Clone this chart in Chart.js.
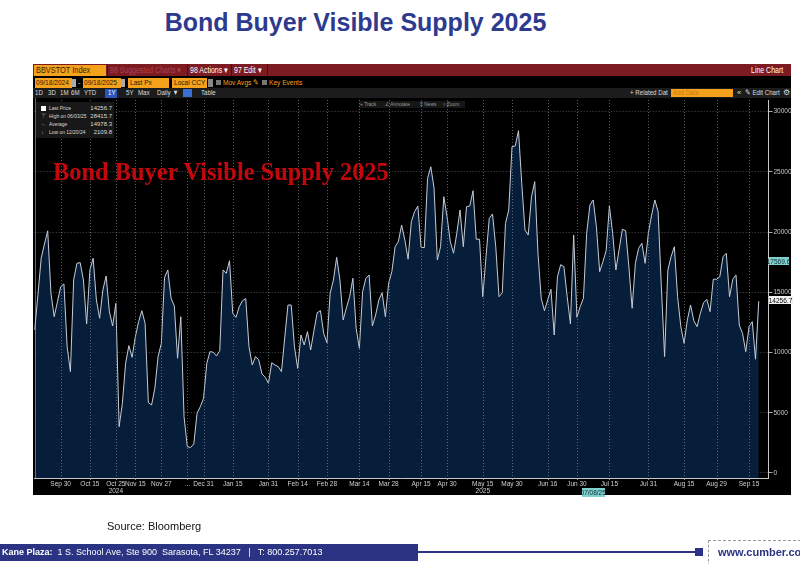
<!DOCTYPE html>
<html><head><meta charset="utf-8">
<script src="https://cdn.jsdelivr.net/npm/chart.js@4.4.1/dist/chart.umd.min.js"></script>
<style>
html,body{margin:0;padding:0;background:#fff;width:800px;height:564px;overflow:hidden;position:relative;font-family:"Liberation Sans",Arial,sans-serif}
.a{position:absolute;white-space:nowrap}
.s{font-size:7.5px;line-height:10px}
.cn{transform:scaleX(0.82);transform-origin:0 0}
.ob{background:#f4a11c;color:#2a1a00;height:10px;top:78px;box-sizing:border-box}
.lg{font-size:6px;color:#dcdcdc;line-height:7px}
</style></head><body>
<!-- page title -->
<div class="a" style="left:0;top:10px;width:711px;text-align:center;font:bold 25px/25px 'Liberation Sans',Arial,sans-serif;color:#2e3a8e">Bond Buyer Visible Supply 2025</div>

<!-- Bloomberg panel -->
<div class="a" style="left:33px;top:64px;width:758px;height:431px;background:#000"></div>
<div class="a" style="left:33px;top:64px;width:758px;height:12px;background:#7c1b22"></div>
<div class="a" style="left:34px;top:65px;width:72px;height:11px;background:#f4a11c"></div>
<div class="a cn" style="left:36px;top:65px;color:#3a2400;line-height:11px;font-size:9px">BBVSTOT Index</div>
<div class="a" style="left:107px;top:64px;width:1px;height:12px;background:#4a0d12"></div>
<div class="a cn" style="left:110px;top:65px;color:#b0414b;line-height:11px;font-size:8.5px">98 Suggested Charts ▾</div>
<div class="a" style="left:187px;top:64px;width:1px;height:12px;background:#4a0d12"></div>
<div class="a cn" style="left:190px;top:65px;color:#fff;line-height:11px;font-size:8.5px">98 Actions ▾</div>
<div class="a" style="left:231px;top:64px;width:1px;height:12px;background:#4a0d12"></div>
<div class="a cn" style="left:234px;top:65px;color:#fff;line-height:11px;font-size:8.5px">97 Edit ▾</div>
<div class="a" style="left:267px;top:64px;width:1px;height:12px;background:#4a0d12"></div>
<div class="a cn" style="left:751px;top:65px;color:#fff;line-height:11px;font-size:8.5px">Line Chart</div>

<!-- row 2 -->
<div class="a ob" style="left:35px;width:37px"></div><div class="a s cn" style="left:36px;top:78px;color:#2a1a00;font-size:8px">09/18/2024</div>
<div class="a" style="left:72px;top:79px;width:4px;height:8px;background:#aaa"></div>
<div class="a s" style="left:78px;top:78px;color:#ddd">-</div>
<div class="a ob" style="left:83px;width:38px"></div><div class="a s cn" style="left:84px;top:78px;color:#2a1a00;font-size:8px">09/18/2025</div>
<div class="a" style="left:121px;top:79px;width:4px;height:8px;background:#aaa"></div>
<div class="a ob" style="left:128px;width:41px"></div><div class="a s cn" style="left:130px;top:78px;color:#2a1a00;font-size:8px">Last Px</div>
<div class="a ob" style="left:172px;width:35px"></div><div class="a s cn" style="left:174px;top:78px;color:#2a1a00;font-size:8px">Local CCY</div>
<div class="a" style="left:208px;top:79px;width:5px;height:8px;background:#888"></div>
<div class="a" style="left:216px;top:80px;width:5px;height:5px;background:#777"></div>
<div class="a s cn" style="left:223px;top:78px;color:#f4a11c;font-size:8px">Mov Avgs ✎</div>
<div class="a" style="left:262px;top:80px;width:5px;height:5px;background:#777"></div>
<div class="a s cn" style="left:269px;top:78px;color:#f4a11c;font-size:8px">Key Events</div>

<!-- row 3 -->
<div class="a" style="left:33px;top:88px;width:758px;height:10px;background:#1c1c1c"></div>
<div class="a s cn" style="left:35px;top:88px;color:#ddd">1D</div>
<div class="a s cn" style="left:48px;top:88px;color:#ddd">3D</div>
<div class="a s cn" style="left:60px;top:88px;color:#ddd">1M</div>
<div class="a s cn" style="left:71px;top:88px;color:#ddd">6M</div>
<div class="a s cn" style="left:84px;top:88px;color:#ddd">YTD</div>
<div class="a" style="left:105px;top:89px;width:12px;height:9px;background:#2a55b8"></div>
<div class="a s cn" style="left:108px;top:88px;color:#fff">1Y</div>
<div class="a s cn" style="left:126px;top:88px;color:#ddd">5Y</div>
<div class="a s cn" style="left:138px;top:88px;color:#ddd">Max</div>
<div class="a s cn" style="left:157px;top:88px;color:#ddd">Daily ▼</div>
<div class="a" style="left:183px;top:89px;width:9px;height:8px;background:#3a6fd0"></div>
<div class="a s cn" style="left:201px;top:88px;color:#ddd">Table</div>
<div class="a s cn" style="left:630px;top:88px;color:#ddd">+ Related Dat</div>
<div class="a" style="left:671px;top:89px;width:62px;height:8px;background:#f4a11c"></div>
<div class="a s cn" style="left:673px;top:88px;color:#d07a10">Add Data</div>
<div class="a s" style="left:737px;top:88px;color:#ddd">«</div>
<div class="a s cn" style="left:745px;top:88px;color:#ddd">✎ Edit Chart</div>
<div class="a s" style="left:783px;top:88px;color:#ddd">⚙</div>

<!-- chart toolbar -->
<div class="a" style="left:359px;top:101px;width:106px;height:7px;background:#161616"></div>
<div class="a lg cn" style="left:360px;top:101px;color:#9a9a9a">+ Track</div>
<div class="a lg cn" style="left:385px;top:101px;color:#9a9a9a">∠ Annotate</div>
<div class="a lg cn" style="left:420px;top:101px;color:#9a9a9a">≡ News</div>
<div class="a lg cn" style="left:443px;top:101px;color:#9a9a9a">⌕ Zoom</div>

<canvas id="c" width="800" height="564" class="a" style="left:0;top:0"></canvas>

<!-- legend box -->
<div class="a" style="left:36px;top:102px;width:78px;height:36px;background:#181818"></div>
<div class="a" style="left:41px;top:106px;width:5px;height:5px;background:#fff"></div>
<div class="a lg cn" style="left:49px;top:105px">Last Price</div>
<div class="a lg" style="left:80px;top:105px;width:32px;text-align:right">14256.7</div>
<div class="a lg" style="left:41px;top:113px;color:#999">⊤</div>
<div class="a lg cn" style="left:49px;top:113px">High on 06/03/25</div>
<div class="a lg" style="left:80px;top:113px;width:32px;text-align:right">28415.7</div>
<div class="a lg" style="left:40px;top:121px;color:#999">→</div>
<div class="a lg cn" style="left:49px;top:121px">Average</div>
<div class="a lg" style="left:80px;top:121px;width:32px;text-align:right">14978.3</div>
<div class="a lg" style="left:41px;top:129px;color:#999">↓</div>
<div class="a lg cn" style="left:49px;top:129px">Low on 12/20/24</div>
<div class="a lg" style="left:80px;top:129px;width:32px;text-align:right">2109.8</div>

<!-- red watermark -->
<div class="a" style="left:53px;top:160px;font:bold 24.4px/24px 'Liberation Serif','Times New Roman',serif;color:#c4070c">Bond Buyer Visible Supply 2025</div>

<!-- footer -->
<div class="a" style="left:107px;top:521px;font:11px/11px 'Liberation Sans',Arial,sans-serif;color:#111">Source: Bloomberg</div>
<div class="a" style="left:0;top:544px;width:418px;height:17px;background:#2b3482"></div>
<div class="a" style="left:2px;top:547px;font:9px/11px 'Liberation Sans',Arial,sans-serif;color:#fff"><b>Kane Plaza:</b>&nbsp; 1 S. School Ave, Ste 900&nbsp; Sarasota, FL 34237 &nbsp; | &nbsp; T: 800.257.7013</div>
<div class="a" style="left:418px;top:551px;width:278px;height:2px;background:#2b3482"></div>
<div class="a" style="left:695px;top:548px;width:8px;height:8px;background:#2b3482"></div>
<div class="a" style="left:708px;top:540px;width:92px;height:30px;border-left:1px dashed #9a9a9a;border-top:1px dashed #9a9a9a"></div>
<div class="a" style="left:718px;top:546px;font:bold 11px/12px 'Liberation Sans',Arial,sans-serif;color:#2b3482">www.cumber.co</div>

<script>
// ---- data ----
const supplyValues = [
 11870,14800,17845,19000,20100,14940,12970,14200,15460,15690,
 10480,8410,16020,17400,17460,16020,12370,16850,17820,14360,
 12840,15190,16350,13390,12200,14080,3840,5780,9100,10570,
 9600,11310,12560,13470,12420,5840,5640,7030,9660,10760,
 16240,16850,14500,13860,9520,12970,4670,2180,2110,2410,
 4950,5500,6200,9100,10070,10020,9710,10150,16850,16570,
 17620,13250,12920,13800,14300,14470,10480,8960,9660,9380,
 8220,7940,7440,9150,8960,8820,8410,11200,13940,13940,
 10480,8680,11450,10620,11730,10210,11800,13300,13470,11590,
 10810,14910,16020,17900,16020,12700,13700,14630,16160,12010,
 10350,15050,16160,16430,12200,13110,14360,14960,12970,15740,
 16710,18780,19200,20580,19340,17740,20860,21690,22160,18730,
 18700,24460,25420,23630,17680,18780,22930,21270,19200,18240,
 19900,21830,18780,22100,22160,23430,19400,19400,14630,17950,
 21140,21500,18780,14630,14960,20720,21830,27080,27140,28416,
 24040,20170,19750,22930,24180,18240,14500,13470,14360,15250,
 11450,16290,17290,17120,14630,12370,19750,12920,13800,14500,
 19900,22240,22660,20440,16710,17540,18450,22160,19900,16850,
 18570,20230,20110,17120,13670,17400,18650,19070,17400,19900,
 21410,22660,21690,15460,9660,16850,17950,18780,14630,12140,
 10760,12700,13940,12640,12140,13250,14130,14410,13390,16080,
 16080,16290,17950,18240,14630,16080,16430,12280,11590,10070,
 12140,12560,9440,14256.7
];
// category slots (one per observation, plus a few empty slots at the right edge)
const slotCount = 227;
const categories = Array.from({length: slotCount}, (_, i) => String(i));
const xTickText = ['Sep 30','Oct 15',['Oct 25','2024'],'Nov 15','Nov 27','...','Dec 31','Jan 15','Jan 31','Feb 14','Feb 28','Mar 14','Mar 28','Apr 15','Apr 30',['May 15','2025'],'May 30','Jun 16','Jun 30','Jul 15','Jul 31','Aug 15','Aug 29','Sep 15'];
const xTickAt   = [8,17,25,31,39,47,52,61,72,81,90,100,109,119,127,138,147,158,167,177,189,200,210,220];
const yTicks = [0,5000,10000,15000,20000,25000,30000];
const markerValues = [17569.6, 14256.7];
const markerDate = ['07/08/25', 172];

const tickMap = {};
xTickAt.forEach((p, k) => { tickMap[p] = xTickText[k]; });

const FONT = "'Liberation Sans', Arial, sans-serif";
const gridCol = 'rgba(125,130,140,0.6)';

const vgrid = {
  id: 'vgrid',
  afterDatasetsDraw(chart) {
    const {ctx, chartArea: a, scales: {x}} = chart;
    ctx.save();
    ctx.fillStyle = 'rgba(130,135,145,0.7)';
    xTickAt.forEach(p => {
      const px = Math.round(x.getPixelForValue(p));
      for (let yy = Math.ceil(a.top); yy < a.bottom; yy += 3) ctx.fillRect(px, yy, 1, 1);
    });
    ctx.fillStyle = '#9a9a9a';
    xTickAt.forEach(p => {
      const px = Math.round(x.getPixelForValue(p));
      ctx.fillRect(px, Math.round(a.bottom), 1, 2);
    });
    // left frame line
    ctx.fillStyle = 'rgba(200,200,200,0.5)';
    ctx.fillRect(Math.round(a.left), 98, 1, a.bottom - 98);
    ctx.restore();
  }
};

const overlay = {
  id: 'overlay',
  afterDraw(chart) {
    const {ctx, scales: {x, y}} = chart;
    ctx.save();
    ctx.font = '6.5px ' + FONT;
    ctx.textBaseline = 'middle';
    ctx.textAlign = 'center';
    function box(text, cx, cy, w, h, bg, fg) {
      ctx.fillStyle = bg;
      ctx.fillRect(Math.round(cx - w / 2), Math.round(cy - h / 2), w, h);
      ctx.fillStyle = fg;
      ctx.fillText(text, cx, cy + 0.5);
    }
    box(String(markerValues[0]), 778.5, y.getPixelForValue(markerValues[0]), 20, 8, '#7fcfcf', '#103030');
    box(String(markerValues[1]), 780.5, y.getPixelForValue(markerValues[1]) - 1, 24, 8, '#f2f2f2', '#000');
    box(markerDate[0], x.getPixelForValue(markerDate[1]), 492.5, 23, 9, '#7fcfcf', '#103030');
    ctx.restore();
  }
};

new Chart(document.getElementById('c'), {
  type: 'line',
  data: {
    labels: categories,
    datasets: [{
      data: supplyValues,
      borderColor: '#c6ccd6',
      borderWidth: 1,
      backgroundColor: '#061e3a',
      fill: 'start',
      pointRadius: 0,
      tension: 0
    }]
  },
  options: {
    responsive: false,
    animation: false,
    devicePixelRatio: 1,
    layout: { padding: { left: 34.7, top: 100, right: 8.5, bottom: 69 } },
    plugins: { legend: { display: false }, tooltip: { enabled: false } },
    scales: {
      x: {
        type: 'category',
        offset: false,
        z: 1,
        grid: { display: false, drawTicks: false, tickLength: 0 },
        border: { display: true, color: '#c8c8c8', width: 1 },
        ticks: {
          autoSkip: false, maxRotation: 0, minRotation: 0, padding: 2,
          color: '#cfcfcf', font: { size: 6.5, family: FONT }, lineHeight: 1.15,
          callback: (v, i) => (tickMap[i] !== undefined ? tickMap[i] : null)
        },
        afterFit: s => { s.height = 17; }
      },
      y: {
        position: 'right',
        min: -420, max: 30960,
        z: 1,
        afterBuildTicks: s => { s.ticks = yTicks.map(v => ({ value: v })); },
        grid: { color: gridCol, tickColor: '#aaaaaa', tickLength: 4 },
        border: { display: true, color: '#c8c8c8', width: 1, dash: [1, 2] },
        ticks: { color: '#c8c8c8', font: { size: 6.5, family: FONT }, padding: 1, callback: v => String(v) },
        afterFit: s => { s.width = 23; }
      }
    }
  },
  plugins: [vgrid, overlay]
});
</script>
</body></html>
